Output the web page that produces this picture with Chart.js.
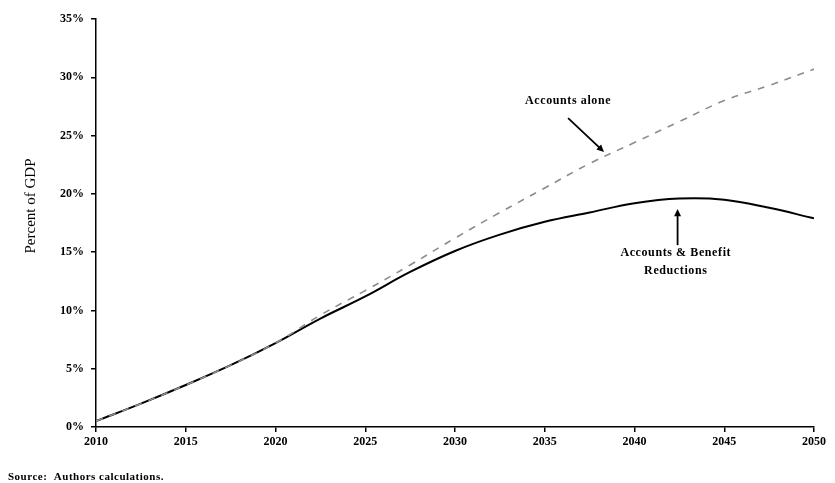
<!DOCTYPE html>
<html>
<head>
<meta charset="utf-8">
<script src="https://cdn.jsdelivr.net/npm/chart.js@4.4.1/dist/chart.umd.min.js"></script>
<style>
  html, body { margin: 0; padding: 0; background: #fff; }
  #wrap { width: 835px; height: 483px; position: relative; }
</style>
</head>
<body>
<div id="wrap"><canvas id="gdpChart" width="835" height="483"></canvas></div>
<script>
const years = [2010, 2012.5, 2015, 2017.5, 2020, 2022.5, 2025, 2027.5, 2030, 2032.5, 2035, 2037.5, 2040, 2042.5, 2045, 2047.5, 2050]
const accountsAlone = [0.5, 2.0, 3.6, 5.3, 7.2, 9.6, 11.7, 13.9, 16.2, 18.4, 20.5, 22.6, 24.4, 26.2, 28.0, 29.3, 30.7]
const accountsAndReductions = [0.5, 2.0, 3.6, 5.3, 7.2, 9.3, 11.2, 13.3, 15.1, 16.5, 17.6, 18.4, 19.2, 19.6, 19.5, 18.8, 17.9]
const xTicks = [2010, 2015, 2020, 2025, 2030, 2035, 2040, 2045, 2050]
const yTicks = [0, 5, 10, 15, 20, 25, 30, 35]

const serifFont = "'Liberation Serif', 'Times New Roman', serif"

function toPoints(values) {
    return years.map((yr, i) => ({ x: yr, y: values[i] }))
}

// text labels and arrows, placed in data units
const notes = [
    { lines: ["Accounts alone"], x: 2036.3, y: 28.0, arrow: [2036.3, 26.5, 2038.3, 23.6] },
    { lines: ["Accounts & Benefit", "Reductions"], x: 2042.3, y: 14.9, arrow: [2042.4, 15.6, 2042.4, 18.7] }
]

function drawArrow(ctx, x1, y1, x2, y2) {
    const ang = Math.atan2(y2 - y1, x2 - x1)
    const head = 8
    ctx.beginPath()
    ctx.moveTo(x1, y1)
    ctx.lineTo(x2 - Math.cos(ang) * head * 0.6, y2 - Math.sin(ang) * head * 0.6)
    ctx.stroke()
    ctx.beginPath()
    ctx.moveTo(x2, y2)
    ctx.lineTo(x2 - head * Math.cos(ang - 0.45), y2 - head * Math.sin(ang - 0.45))
    ctx.lineTo(x2 - head * Math.cos(ang + 0.45), y2 - head * Math.sin(ang + 0.45))
    ctx.closePath()
    ctx.fill()
}

const extras = {
    id: "extras",
    afterDraw(chart) {
        const ctx = chart.ctx
        const xs = chart.scales.x
        const ys = chart.scales.y
        ctx.save()
        ctx.fillStyle = "#000"
        ctx.strokeStyle = "#000"
        ctx.lineWidth = 1.8

        notes.forEach(n => {
            ctx.font = "bold 12px " + serifFont
            ctx.letterSpacing = "0.6px"
            ctx.textAlign = "center"
            ctx.textBaseline = "middle"
            n.lines.forEach((t, i) => {
                ctx.fillText(t, xs.getPixelForValue(n.x), ys.getPixelForValue(n.y) + i * 18)
            })
            const a = n.arrow
            drawArrow(ctx, xs.getPixelForValue(a[0]), ys.getPixelForValue(a[1]),
                xs.getPixelForValue(a[2]), ys.getPixelForValue(a[3]))
        })

        // y axis title
        ctx.letterSpacing = "0px"
        ctx.font = "15px " + serifFont
        ctx.translate(31, 206)
        ctx.rotate(-Math.PI / 2)
        ctx.textAlign = "center"
        ctx.textBaseline = "middle"
        ctx.fillText("Percent of GDP", 0, 0)
        ctx.restore()

        // source note
        ctx.save()
        ctx.font = "bold 11px " + serifFont
        ctx.letterSpacing = "0.5px"
        ctx.fillStyle = "#000"
        ctx.textAlign = "left"
        ctx.textBaseline = "middle"
        ctx.fillText("Source:  Authors calculations.", 8, 477)
        ctx.restore()
    }
}

const axisGrid = {
    display: true,
    drawOnChartArea: false,
    drawTicks: true,
    tickLength: 5,
    color: "#000",
    lineWidth: 1.5
}

new Chart(document.getElementById("gdpChart").getContext("2d"), {
    type: "line",
    data: {
        datasets: [
            {
                label: "Accounts alone",
                data: toPoints(accountsAlone),
                borderColor: "#8c8c8c",
                borderWidth: 1.6,
                borderDash: [7, 7],
                pointRadius: 0,
                tension: 0.4,
                fill: false
            },
            {
                label: "Accounts & Benefit Reductions",
                data: toPoints(accountsAndReductions),
                borderColor: "#000",
                borderWidth: 2,
                pointRadius: 0,
                tension: 0.4,
                fill: false
            }
        ]
    },
    options: {
        responsive: false,
        animation: false,
        devicePixelRatio: 1,
        layout: { padding: { top: 19, right: 21, bottom: 0, left: 0 } },
        plugins: {
            legend: { display: false },
            tooltip: { enabled: false }
        },
        scales: {
            x: {
                type: "linear",
                min: 2010,
                max: 2050,
                afterBuildTicks: axis => { axis.ticks = xTicks.map(v => ({ value: v })) },
                afterFit: axis => { axis.height = 56 },
                grid: axisGrid,
                border: { color: "#000", width: 1.5 },
                ticks: {
                    color: "#000",
                    padding: 3,
                    maxRotation: 0,
                    font: { family: serifFont, size: 12, weight: "bold" },
                    callback: v => String(v)
                }
            },
            y: {
                min: 0,
                max: 35,
                afterBuildTicks: axis => { axis.ticks = yTicks.map(v => ({ value: v })) },
                afterFit: axis => { axis.width = 96 },
                grid: axisGrid,
                border: { color: "#000", width: 1.5 },
                ticks: {
                    color: "#000",
                    padding: 7,
                    font: { family: serifFont, size: 12, weight: "bold" },
                    callback: v => v + "%"
                }
            }
        }
    },
    plugins: [extras]
})
</script>
</body>
</html>
